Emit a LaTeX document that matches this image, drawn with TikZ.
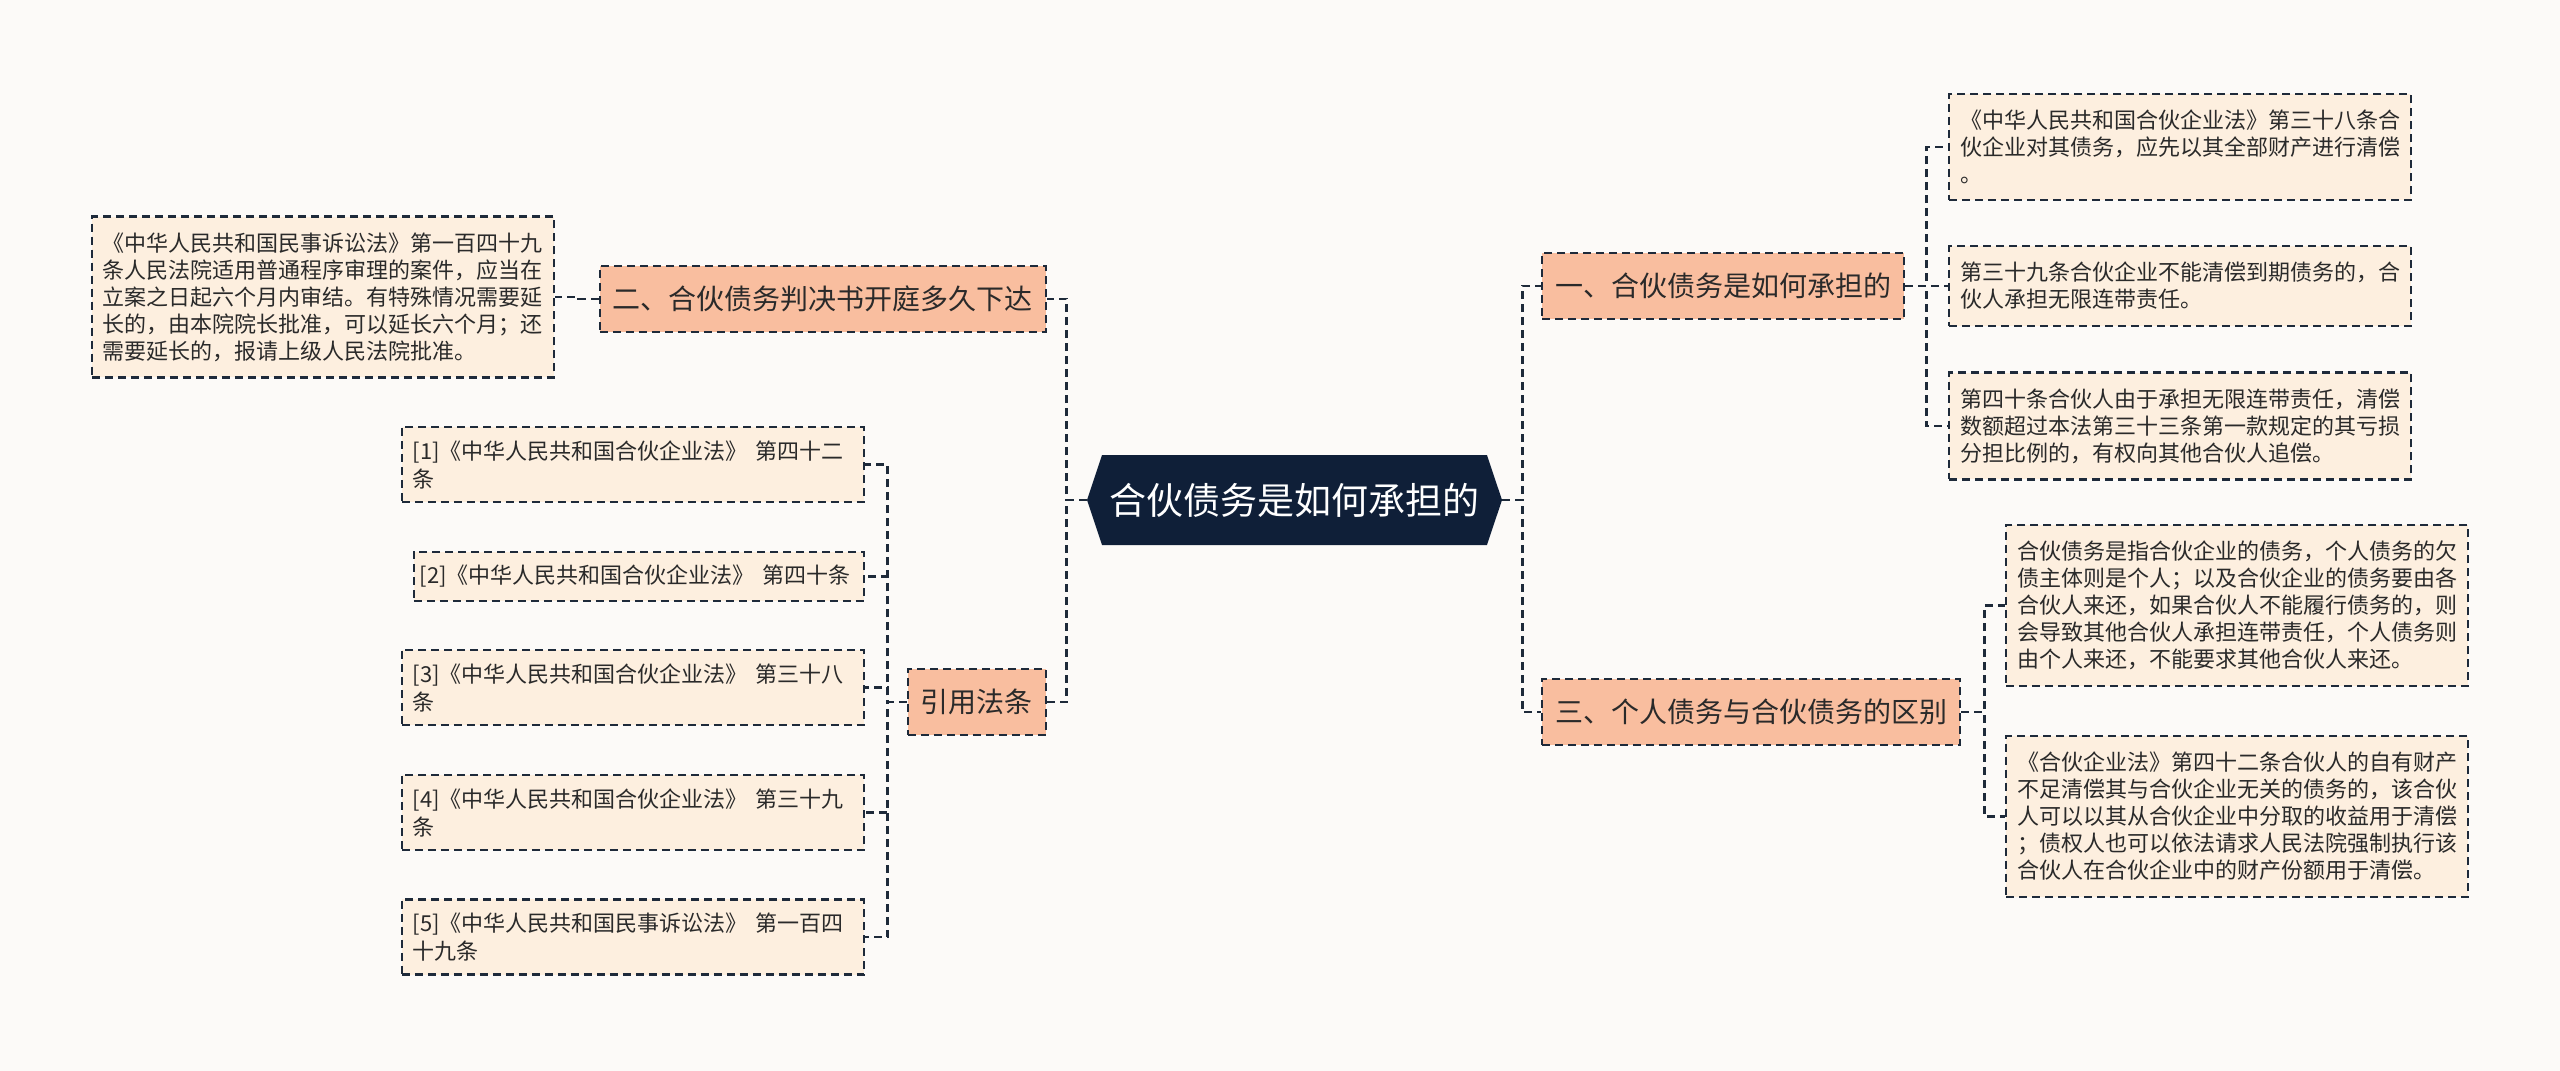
\documentclass[tikz,border=0pt]{standalone}
\usepackage{fontspec}
\setmainfont{Noto Sans CJK SC}
\usetikzlibrary{positioning,calc,shapes.symbols}
\definecolor{bgcol}{HTML}{FCFAF8}
\definecolor{navy}{HTML}{0F1F38}
\definecolor{peach}{HTML}{F9BE9F}
\definecolor{cream}{HTML}{FDEFDF}
\definecolor{inkline}{HTML}{1E2A3A}
\definecolor{inktext}{HTML}{2A2A2A}

\begin{document}
\begin{tikzpicture}[
  x=0.5pt, y=-0.5pt,
  root/.style={shape=signal, signal to=west and east, signal pointer angle=143,
    fill=navy, text=white, font=\fontsize{18.5}{22}\selectfont,
    minimum width=207.5pt, minimum height=45pt, inner sep=0pt},
  topic/.style={draw=inkline, line width=1.2pt, dash pattern=on 4pt off 2.5pt,
    fill=peach, text=inktext, font=\fontsize{14}{17}\selectfont,
    inner xsep=6.5pt, inner ysep=0pt, minimum height=33pt},
  leaf/.style={draw=inkline, line width=1.2pt, dash pattern=on 4pt off 2.5pt,
    fill=cream, text=inktext, font=\fontsize{11}{13.5}\selectfont,
    text width=220pt, align=left, inner xsep=5.5pt, inner ysep=8pt},
  refbox/.style={leaf, font=\fontsize{11}{14}\selectfont, inner ysep=6.75pt},
  link/.style={draw=inkline, line width=1.2pt, dash pattern=on 4pt off 2.5pt}
]
  \fill[bgcol] (0,0) rectangle (2560,1071);
  \useasboundingbox (0,0) rectangle (2560,1071);

  % centre
  \node[root] (root) at (1294.5,500) {合伙债务是如何承担的};

  % right side
  \node[topic, anchor=west] (bear) at (1541,286) {一、合伙债务是如何承担的};
  \node[topic, anchor=west] (diff) at (1541,712) {三、个人债务与合伙债务的区别};
  \node[leaf, anchor=west] (bearA) at (1948,147)
    {《中华人民共和国合伙企业法》第三十八条合\\伙企业对其债务，应先以其全部财产进行清偿\\。};
  \node[leaf, anchor=west] (bearB) at (1948,286)
    {第三十九条合伙企业不能清偿到期债务的，合\\伙人承担无限连带责任。};
  \node[leaf, anchor=west] (bearC) at (1948,426)
    {第四十条合伙人由于承担无限连带责任，清偿\\数额超过本法第三十三条第一款规定的其亏损\\分担比例的，有权向其他合伙人追偿。};
  \node[leaf, anchor=west] (diffA) at (2005,605.5)
    {合伙债务是指合伙企业的债务，个人债务的欠\\债主体则是个人；以及合伙企业的债务要由各\\合伙人来还，如果合伙人不能履行债务的，则\\会导致其他合伙人承担连带责任，个人债务则\\由个人来还，不能要求其他合伙人来还。};
  \node[leaf, anchor=west] (diffB) at (2005,816.5)
    {《合伙企业法》第四十二条合伙人的自有财产\\不足清偿其与合伙企业无关的债务的，该合伙\\人可以以其从合伙企业中分取的收益用于清偿\\；债权人也可以依法请求人民法院强制执行该\\合伙人在合伙企业中的财产份额用于清偿。};

  % left side
  \node[topic, anchor=east] (verdict) at (1047,299) {二、合伙债务判决书开庭多久下达};
  \node[topic, anchor=east] (laws) at (1047,702) {引用法条};
  \node[leaf, anchor=east] (verdictA) at (555,297)
    {《中华人民共和国民事诉讼法》第一百四十九\\条人民法院适用普通程序审理的案件，应当在\\立案之日起六个月内审结。有特殊情况需要延\\长的，由本院院长批准，可以延长六个月；还\\需要延长的，报请上级人民法院批准。};
  \node[refbox, anchor=east] (ref1) at (865,464.5) {[1]《中华人民共和国合伙企业法》 第四十二\\条};
  \node[refbox, anchor=east, text width=219pt, inner xsep=3pt] (ref2) at (865,576.5)
    {[2]《中华人民共和国合伙企业法》 第四十条};
  \node[refbox, anchor=east] (ref3) at (865,687.5) {[3]《中华人民共和国合伙企业法》 第三十八\\条};
  \node[refbox, anchor=east] (ref4) at (865,812.5) {[4]《中华人民共和国合伙企业法》 第三十九\\条};
  \node[refbox, anchor=east] (ref5) at (865,937) {[5]《中华人民共和国民事诉讼法》 第一百四\\十九条};

  % connectors
  \draw[link] (root.west) -- ++(-20,0) |- (verdict.east);
  \draw[link] (root.west) -- ++(-20,0) |- (laws.east);
  \draw[link] (root.east) -- ++(20,0) |- (bear.west);
  \draw[link] (root.east) -- ++(20,0) |- (diff.west);
  \foreach \leafname in {bearA,bearB,bearC}
    \draw[link] (bear.east) -- ++(21,0) |- (\leafname.west);
  \foreach \leafname in {diffA,diffB}
    \draw[link] (diff.east) -- ++(23,0) |- (\leafname.west);
  \draw[link] (verdict.west) -- ++(-20,0) |- (verdictA.east);
  \foreach \leafname in {ref1,ref2,ref3,ref4,ref5}
    \draw[link] (laws.west) -- ++(-19,0) |- (\leafname.east);
\end{tikzpicture}
\end{document}
